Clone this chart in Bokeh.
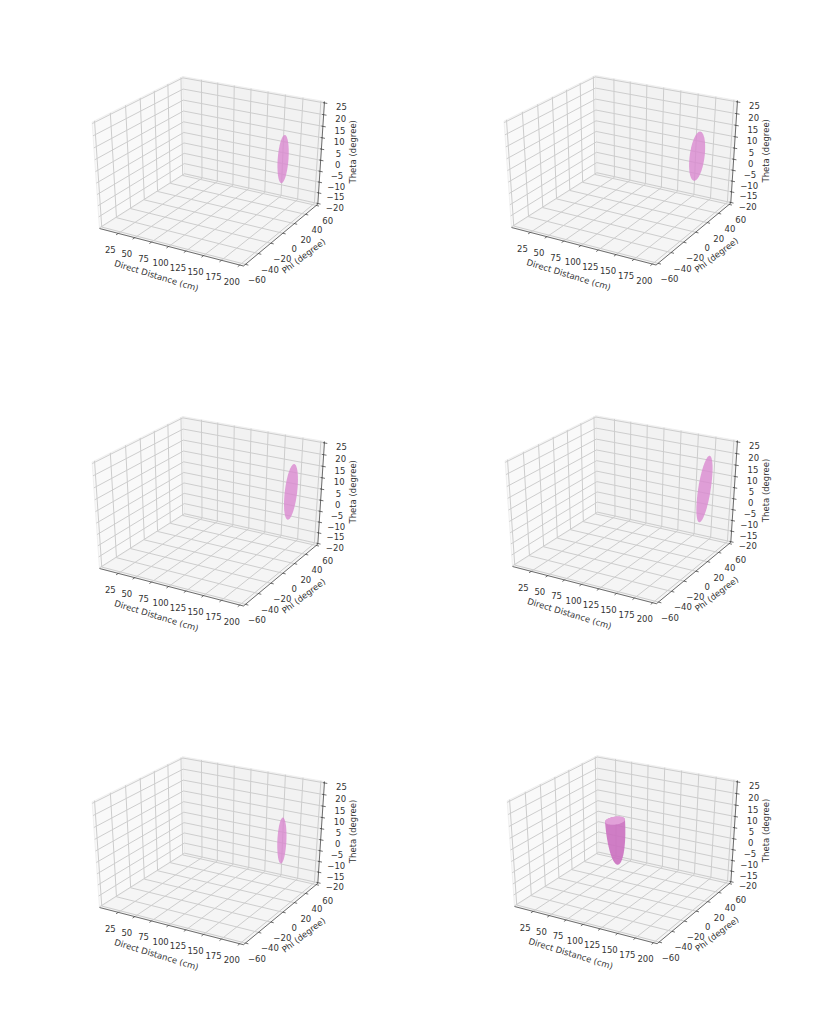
import numpy as np
from bokeh.plotting import figure
from bokeh.layouts import column, row
from bokeh.embed import file_html
from bokeh.resources import INLINE
from bokeh.core.properties import value

# --- chart values
x_ticks = [25, 50, 75, 100, 125, 150, 175, 200]
y_ticks = [-60, -40, -20, 0, 20, 40, 60]
z_ticks = [-20, -15, -10, -5, 0, 5, 10, 15, 20, 25]
x_lim = (-4, 205)
y_lim = (-63, 63)
z_lim = (-20.3, 25.6)
x_title = "Direct Distance (cm)"
y_title = "Phi (degree)"
z_title = "Theta (degree)"

# one entry per panel, reading order
blob_dist = [173, 173, 175, 174, 173, 111]
blob_phi = [35, 37, 46, 48, 33, -26]
blob_theta = [3.5, 4, 4.8, 5, 3, 18]
blob_r_dist = [6.5, 9, 7.5, 7.5, 5.5, 11]
blob_r_phi = [5, 7, 6, 6.5, 4, 9]
blob_r_theta = [10.4, 10.2, 11.7, 13.7, 10.2, 19.5]
blob_lean = [0.1, 0.3, 0.27, 0.45, 0.0, -0.2]
blob_cut = [False, False, False, False, False, True]

# --- layout: page pixels
col_x = [(1, 408), (408, 815)]
row_y = [(2, 342), (342, 682), (682, 994)]
anchors = [
    ((100, 230), (325, 103)), ((512, 229), (738, 102)),
    ((100, 570), (325, 443)), ((513, 568), (738, 442)),
    ((100, 909), (325, 783)), ((515, 908), (738, 782)),
]

elev, azim, dist = np.radians(27.5), np.radians(-60), 6.5
eye_dir = np.array([np.cos(elev) * np.cos(azim), np.cos(elev) * np.sin(azim), np.sin(elev)])
box = np.array([1.0, 1.0, 0.88])
centre = box / 2
eye = centre + eye_dir * dist
right = np.cross([0, 0, 1], eye_dir)
right /= np.linalg.norm(right)
up = np.cross(eye_dir, right)


def raw(x, y, z):
    x, y, z = np.atleast_1d(x, y, z)
    P = np.stack([
        (x - x_lim[0]) / (x_lim[1] - x_lim[0]) * box[0],
        (y - y_lim[0]) / (y_lim[1] - y_lim[0]) * box[1],
        (z - z_lim[0]) / (z_lim[1] - z_lim[0]) * box[2],
    ], axis=-1) - eye
    depth = -(P @ eye_dir)
    return (P @ right) / depth * dist, (P @ up) / depth * dist


def make_proj(L, R):
    u0, v0 = raw(x_lim[0], y_lim[0], z_lim[0])
    u1, v1 = raw(x_lim[1], y_lim[1], z_lim[1])
    sx = (R[0] - L[0]) / (u1[0] - u0[0])
    sy = (R[1] - L[1]) / (v1[0] - v0[0])

    def proj(x, y, z):
        u, v = raw(x, y, z)
        return L[0] + sx * (u - u0[0]), L[1] + sy * (v - v0[0])
    return proj


def hull(px, py):
    pts = sorted(set(zip(px.tolist(), py.tolist())))
    def half(seq):
        out = []
        for p in seq:
            while len(out) > 1 and (out[-1][0] - out[-2][0]) * (p[1] - out[-2][1]) - (out[-1][1] - out[-2][1]) * (p[0] - out[-2][0]) <= 0:
                out.pop()
            out.append(p)
        return out
    h = half(pts)[:-1] + half(pts[::-1])[:-1]
    return [p[0] for p in h], [p[1] for p in h]


FONT = value("DejaVu Sans")
INK = "#333333"
TS = "8.5px"


def panel(i, xr, yr):
    proj = make_proj(*anchors[i])
    p = figure(width=xr[1] - xr[0], height=yr[1] - yr[0], x_range=xr, y_range=(yr[1], yr[0]),
               output_backend="svg", toolbar_location=None, min_border=0,
               outline_line_color=None, background_fill_color="white", border_fill_color="white")
    p.axis.visible = False
    p.grid.visible = False
    x0, x1 = x_lim
    y0, y1 = y_lim
    z0, z1 = z_lim

    def quad(a, color):
        xs, ys = zip(*[tuple(v[0] for v in proj(*q)) for q in a])
        p.patch(list(xs), list(ys), fill_color=color, line_color="#ececec", line_width=0.8)

    quad([(x0, y0, z0), (x0, y1, z0), (x0, y1, z1), (x0, y0, z1)], "#f9f9f9")
    quad([(x0, y1, z0), (x1, y1, z0), (x1, y1, z1), (x0, y1, z1)], "#f2f2f2")
    quad([(x0, y0, z0), (x1, y0, z0), (x1, y1, z0), (x0, y1, z0)], "#f5f5f5")

    gx, gy = [], []

    def poly(points):
        a = [proj(*q) for q in points]
        gx.append([v[0][0] for v in a])
        gy.append([v[1][0] for v in a])
    for t in x_ticks:
        poly([(t, y0, z0), (t, y1, z0), (t, y1, z1)])
    for t in y_ticks:
        poly([(x1, t, z0), (x0, t, z0), (x0, t, z1)])
    for t in z_ticks:
        poly([(x0, y0, t), (x0, y1, t), (x1, y1, t)])
    p.multi_line(gx, gy, line_color="#cdcdcd", line_width=1.0)

    # blob
    u = np.linspace(0, 2 * np.pi, 61)
    v = np.linspace(0, np.pi, 41)
    if blob_cut[i]:
        v = np.linspace(np.pi / 2, np.pi, 30)
    U, V = np.meshgrid(u, v)
    bx = blob_dist[i] + blob_r_dist[i] * np.sin(V) * np.cos(U)
    bz = blob_theta[i] + blob_r_theta[i] * np.cos(V)
    by = blob_phi[i] + blob_r_phi[i] * np.sin(V) * np.sin(U) + blob_lean[i] * (bz - blob_theta[i])
    px, py = proj(bx.ravel(), by.ravel(), bz.ravel())
    hx, hy = hull(px, py)
    if blob_cut[i]:
        p.patch(hx, hy, fill_color="#cb70c0", fill_alpha=0.9, line_color=None)
        cx, cy = proj(blob_dist[i] + blob_r_dist[i] * np.cos(u),
                      blob_phi[i] + blob_r_phi[i] * np.sin(u),
                      np.full_like(u, blob_theta[i]))
        p.patch(cx.tolist(), cy.tolist(), fill_color="#e3a3da", fill_alpha=0.95, line_color=None)
    else:
        p.patch(hx, hy, fill_color="#da88d0", fill_alpha=0.8, line_color=None)

    # axis lines and ticks
    ax, ay = [], []

    def seg(q0, q1):
        a, b = proj(*q0), proj(*q1)
        ax.append([a[0][0], b[0][0]])
        ay.append([a[1][0], b[1][0]])
    seg((x0, y0, z0), (x1, y0, z0))
    seg((x1, y0, z0), (x1, y1, z0))
    seg((x1, y1, z0), (x1, y1, z1))
    for t in x_ticks:
        seg((t, y0, z0), (t, y0 - 3, z0))
    for t in y_ticks:
        seg((x1, t, z0), (x1 + 4, t, z0))
    for t in z_ticks:
        seg((x1 - 2, y1, t), (x1 + 4, y1, t))
    p.multi_line(ax, ay, line_color="#333333", line_width=0.7)

    def label(xs, ys, txt, angle=0.0):
        p.text(xs, ys, text=txt, text_font=FONT, text_font_size=TS, text_color=INK,
               text_align="center", text_baseline="middle", angle=[angle] * len(xs))

    a = [proj(t, y0, z0) for t in x_ticks]
    label([q[0][0] - 8 for q in a], [q[1][0] + 16 for q in a], [str(t) for t in x_ticks])
    a = [proj(x1, t, z0) for t in y_ticks]
    label([q[0][0] + 11.5 for q in a], [q[1][0] + 15.5 for q in a], [str(t).replace("-", "\u2212") for t in y_ticks])
    a = [proj(x1, y1, t) for t in z_ticks]
    label([q[0][0] + 17 for q in a], [q[1][0] + 4 for q in a], [str(t).replace("-", "\u2212") for t in z_ticks])

    q0, q1 = proj(x0, y0, z0), proj(x1, y0, z0)
    label([(q0[0][0] + q1[0][0]) / 2 - 15], [(q0[1][0] + q1[1][0]) / 2 + 28.5], [x_title], np.radians(-17))
    q0, q1 = proj(x1, y0, z0), proj(x1, y1, z0)
    label([(q0[0][0] + q1[0][0]) / 2 + 23], [(q0[1][0] + q1[1][0]) / 2 + 21], [y_title], np.radians(37))
    q0, q1 = proj(x1, y1, z0), proj(x1, y1, z1)
    label([(q0[0][0] + q1[0][0]) / 2 + 32], [(q0[1][0] + q1[1][0]) / 2 - 1], [z_title], np.radians(90))
    return p


rows = []
for r in range(3):
    rows.append(row(*[panel(r * 2 + c, col_x[c], row_y[r]) for c in range(2)], spacing=0))
layout = column(*rows, spacing=0)
open("out.html", "w").write(file_html(layout, INLINE))
